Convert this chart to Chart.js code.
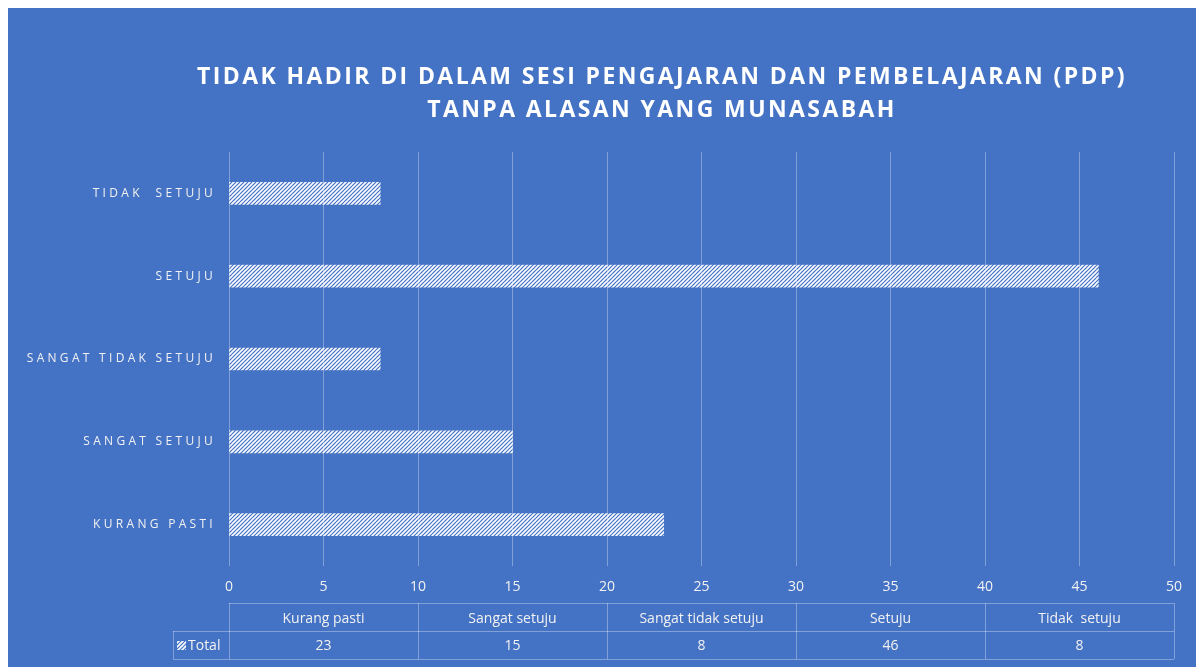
<!DOCTYPE html>
<html>
<head>
<meta charset="utf-8">
<title>PDP</title>
<script src="https://cdn.jsdelivr.net/npm/chart.js@4.4.0/dist/chart.umd.min.js"></script>
<style>
body { margin: 0; background: #fff; }
#wrap { position: absolute; left: 8px; top: 8px; width: 1188px; height: 659px; background: #4472c4; }
</style>
</head>
<body>
<div id="wrap"><canvas id="pdpChart"></canvas></div>
<script>
// data
var categories = ['Kurang pasti', 'Sangat setuju', 'Sangat tidak setuju', 'Setuju', 'Tidak  setuju'];
var totals = [23, 15, 8, 46, 8];
var seriesName = 'Total';
var titleLines = ['TIDAK HADIR DI DALAM SESI PENGAJARAN DAN PEMBELAJARAN (PDP)', 'TANPA ALASAN YANG MUNASABAH'];
var xMin = 0, xMax = 50, xStep = 5;

var textColor = '#f2f2f2';
var lineColor = 'rgba(255,255,255,0.33)';
var fontName = '"Open Sans", "DejaVu Sans", sans-serif';

var canvas = document.getElementById('pdpChart');
var ctx = canvas.getContext('2d');

function makeHatch() {
    var c = document.createElement('canvas');
    c.width = 4; c.height = 4;
    var h = c.getContext('2d');
    h.strokeStyle = '#ffffff';
    h.lineWidth = 1.6;
    h.beginPath();
    h.moveTo(0, 4); h.lineTo(4, 0);
    h.moveTo(-1, 1); h.lineTo(1, -1);
    h.moveTo(3, 5); h.lineTo(5, 3);
    h.stroke();
    return ctx.createPattern(c, 'repeat');
}
var hatch = makeHatch();

// title + data table under the axis
var extrasPlugin = {
    id: 'extras',
    afterLayout: function (chart) {
        var y = chart.scales.y;
        if (!y._spaced) {
            var orig = y.drawLabels;
            y.drawLabels = function (area) {
                var c = this.ctx;
                c.save();
                c.letterSpacing = '3.3px';
                orig.call(this, area);
                c.restore();
            };
            y._spaced = true;
        }
    },
    afterDraw: function (chart) {
        var c = chart.ctx;
        var area = chart.chartArea;
        c.save();

        // title
        c.fillStyle = '#ffffff';
        c.font = 'bold 23px ' + fontName;
        c.letterSpacing = '2.4px';
        c.textAlign = 'center';
        c.textBaseline = 'middle';
        var cx = 654;
        c.fillText(titleLines[0], cx, 69);
        c.fillText(titleLines[1], cx, 102);
        c.letterSpacing = '0px';

        // table
        var top = 595, mid = 623, bottom = 651, legendLeft = 165;
        var colW = (area.right - area.left) / categories.length;
        c.strokeStyle = lineColor;
        c.lineWidth = 1;
        c.beginPath();
        c.moveTo(area.left, top + 0.5); c.lineTo(area.right, top + 0.5);
        c.moveTo(legendLeft, mid + 0.5); c.lineTo(area.right, mid + 0.5);
        c.moveTo(legendLeft, bottom + 0.5); c.lineTo(area.right, bottom + 0.5);
        c.moveTo(legendLeft + 0.5, mid); c.lineTo(legendLeft + 0.5, bottom);
        for (var i = 0; i <= categories.length; i++) {
            var xx = Math.round(area.left + i * colW) + 0.5;
            c.moveTo(xx, top); c.lineTo(xx, bottom);
        }
        c.stroke();

        c.fillStyle = textColor;
        c.font = '14px ' + fontName;
        c.textAlign = 'center';
        for (var j = 0; j < categories.length; j++) {
            var mx = area.left + (j + 0.5) * colW;
            c.fillText(categories[j], mx, (top + mid) / 2 + 2);
            c.fillText(String(totals[j]), mx, (mid + bottom) / 2 + 1);
        }

        // legend key
        c.fillStyle = hatch;
        c.fillRect(legendLeft + 4, (mid + bottom) / 2 - 4, 9, 9);
        c.fillStyle = textColor;
        c.textAlign = 'left';
        c.fillText(seriesName, legendLeft + 15, (mid + bottom) / 2 + 1);

        c.restore();
    }
};

var chart = new Chart(ctx, {
    type: 'bar',
    data: {
        labels: categories,
        datasets: [{
            label: seriesName,
            data: totals,
            backgroundColor: hatch,
            borderWidth: 0,
            barThickness: 22
        }]
    },
    options: {
        indexAxis: 'y',
        responsive: true,
        maintainAspectRatio: false,
        animation: false,
        layout: { padding: { top: 144, right: 22, left: 0, bottom: 0 } },
        plugins: {
            legend: { display: false },
            tooltip: { enabled: false }
        },
        scales: {
            x: {
                min: xMin,
                max: xMax,
                ticks: { stepSize: xStep, color: textColor, font: { family: fontName, size: 14 }, padding: 13 },
                grid: { color: lineColor, drawTicks: false },
                border: { display: false },
                afterFit: function (scale) { scale.height = 101; }
            },
            y: {
                reverse: true,
                ticks: {
                    color: textColor,
                    font: { family: fontName, size: 12 },
                    padding: 5,
                    callback: function (v) { return this.getLabelForValue(v).toUpperCase(); }
                },
                grid: { display: false },
                border: { display: false },
                afterFit: function (scale) { scale.width = 221; }
            }
        }
    },
    plugins: [extrasPlugin]
});
</script>
</body>
</html>
